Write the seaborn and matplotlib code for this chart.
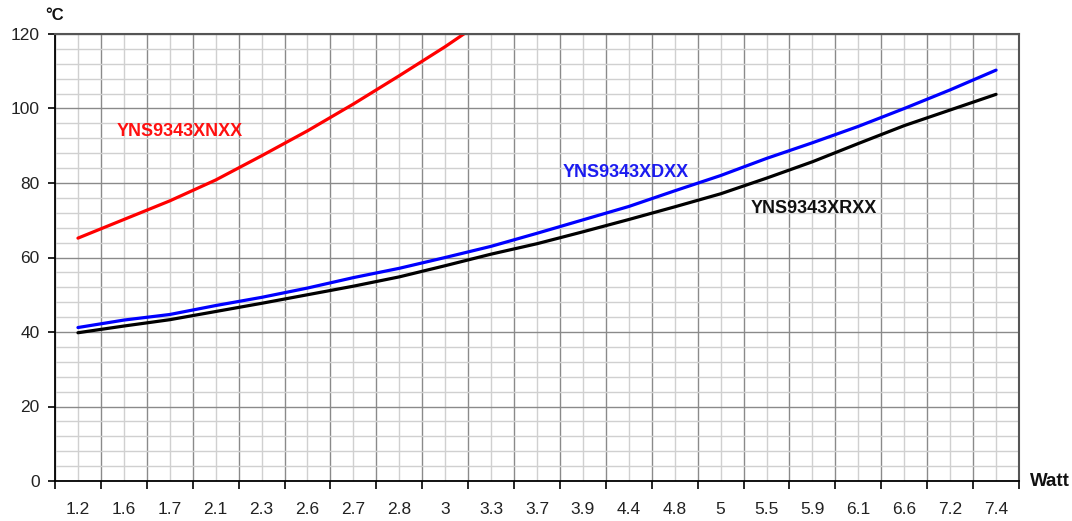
import numpy as np
import pandas as pd
import matplotlib
matplotlib.use("Agg")
import matplotlib.pyplot as plt
from matplotlib.ticker import FixedLocator, MultipleLocator, NullFormatter, FixedFormatter
import seaborn as sns

watt_labels = ["1.2", "1.6", "1.7", "2.1", "2.3", "2.6", "2.7", "2.8", "3", "3.3", "3.7",
               "3.9", "4.4", "4.8", "5", "5.5", "5.9", "6.1", "6.6", "7.2", "7.4"]

temp_xnxx = [65.2, 70.2, 75.2, 80.8, 87.3, 94.0, 101.2, 108.8, 116.6, 125.0]
temp_xdxx = [41.2, 43.2, 44.7, 47.1, 49.3, 51.8, 54.6, 57.1, 60.0, 63.0, 66.5,
             70.1, 73.7, 77.9, 82.0, 86.6, 90.8, 95.2, 100.0, 105.0, 110.3]
temp_xrxx = [39.8, 41.6, 43.3, 45.5, 47.7, 50.0, 52.3, 54.8, 57.8, 60.9, 63.7,
             66.9, 70.2, 73.6, 77.1, 81.3, 85.7, 90.6, 95.4, 99.6, 103.8]

series_names = ["YNS9343XNXX", "YNS9343XDXX", "YNS9343XRXX"]
series_colors = ["#ff0000", "#0000ff", "#000000"]

sns.set_theme(style="white")
plt.rcParams["font.family"] = ["Liberation Sans", "DejaVu Sans"]

fig = plt.figure(figsize=(10.72, 5.21), dpi=100)
ax = fig.add_axes([55 / 1072, 1 - 481 / 521, (1019 - 55) / 1072, (481 - 34) / 521])

for name, vals, col in zip(series_names, [temp_xnxx, temp_xdxx, temp_xrxx], series_colors):
    df = pd.DataFrame({"pos": np.arange(len(vals)), "temp": vals})
    sns.lineplot(data=df, x="pos", y="temp", ax=ax, color=col, linewidth=2.3,
                 estimator=None, sort=False, legend=False)

n = len(watt_labels)
ax.set_xlim(-0.5, n - 0.5)
ax.set_ylim(0, 120)

# x: major ticks at category boundaries (no labels), minor at centres (labels)
ax.xaxis.set_major_locator(FixedLocator(np.arange(n + 1) - 0.5))
ax.xaxis.set_major_formatter(NullFormatter())
ax.xaxis.set_minor_locator(FixedLocator(np.arange(n)))
ax.xaxis.set_minor_formatter(FixedFormatter(watt_labels))
ax.tick_params(axis="x", which="major", direction="out", length=6, width=1.2,
               color="#000000", bottom=True)
ax.tick_params(axis="x", which="minor", length=0, pad=15, labelsize=12.5,
               labelcolor="#222222", bottom=True)

ax.yaxis.set_major_locator(MultipleLocator(20))
ax.yaxis.set_minor_locator(MultipleLocator(4))
ax.tick_params(axis="y", which="major", direction="out", length=5, width=1.2,
               color="#000000", labelsize=12.5, labelcolor="#222222", pad=6, left=True)
ax.tick_params(axis="y", which="minor", length=0)

ax.set_axisbelow(True)
ax.grid(which="major", color="#8a8a8a", linewidth=1.0)
ax.grid(which="minor", color="#d0d0d0", linewidth=1.0)

for side in ["left", "bottom"]:
    ax.spines[side].set_color("#000000")
    ax.spines[side].set_linewidth(1.3)
for side in ["top", "right"]:
    ax.spines[side].set_color("#555555")
    ax.spines[side].set_linewidth(1.5)
    ax.spines[side].set_visible(True)

ax.set_xlabel("")
ax.set_ylabel("")

ax.text(0.85, 93.8, series_names[0], color="#ff1010", fontsize=13, fontweight="bold",
        va="center", ha="left")
ax.text(10.55, 82.8, series_names[1], color="#1c1cf0", fontsize=13, fontweight="bold",
        va="center", ha="left")
ax.text(14.66, 73.2, series_names[2], color="#111111", fontsize=13, fontweight="bold",
        va="center", ha="left")

fig.text(55 / 1072, 1 - 16 / 521, "°C", fontsize=12, fontweight="bold",
         ha="center", va="center", color="#111111")
fig.text(1030 / 1072, 1 - 482 / 521, "Watt", fontsize=13.5, fontweight="bold",
         ha="left", va="center", color="#111111")

fig.savefig("out.png", dpi=100, facecolor="white")
